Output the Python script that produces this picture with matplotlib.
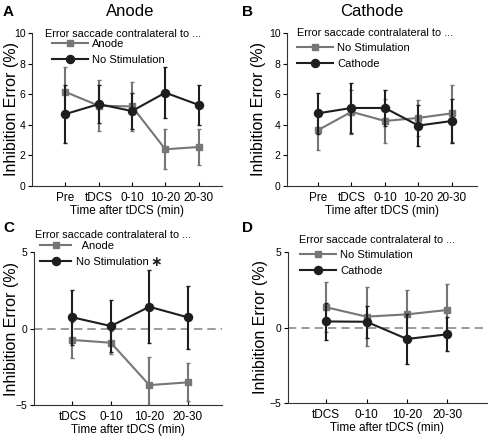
import matplotlib
matplotlib.use("Agg")
import matplotlib.pyplot as plt
from matplotlib.lines import Line2D
import numpy as np

plt.rcParams['font.family'] = ['Liberation Sans', 'DejaVu Sans']

# ---------------- data ----------------
labels_top = ["Pre", "tDCS", "0-10", "10-20", "20-30"]
labels_bot = ["tDCS", "0-10", "10-20", "20-30"]

# Panel A (Anode)
a_anode = [6.15, 5.25, 5.2, 2.4, 2.55]
a_anode_err = [1.65, 1.65, 1.6, 1.3, 1.15]
a_nostim = [4.7, 5.35, 4.9, 6.1, 5.3]
a_nostim_err = [1.9, 1.25, 1.15, 1.65, 1.3]

# Panel B (Cathode)
b_nostim = [3.65, 4.85, 4.25, 4.45, 4.75]
b_nostim_err = [1.3, 1.45, 1.45, 1.15, 1.85]
b_cathode = [4.75, 5.1, 5.1, 3.95, 4.25]
b_cathode_err = [1.35, 1.65, 1.15, 1.35, 1.45]

# Panel C (Anode, baseline-corrected)
c_anode = [-0.75, -0.93, -3.7, -3.52]
c_anode_err = [1.15, 0.75, 1.85, 1.25]
c_nostim = [0.73, 0.16, 1.42, 0.73]
c_nostim_err = [1.8, 1.7, 2.4, 2.05]

# Panel D (Cathode, baseline-corrected)
d_nostim = [1.34, 0.72, 0.87, 1.16]
d_nostim_err = [1.65, 1.95, 1.6, 1.75]
d_cathode = [0.4, 0.38, -0.76, -0.45]
d_cathode_err = [1.25, 1.05, 1.68, 1.12]

legend_title = "Error saccade contralateral to ..."

GRAY = "#767676"
BLACK = "#1e1e1e"
SQ_MS = 5
CI_MS = 5.8

W, H = 489, 436
fig = plt.figure(figsize=(W / 100, H / 100), dpi=100)


def fx(px):
    return px / W


def fy(py):
    return 1 - py / H


def make_ax(left, right, top, bottom):
    return fig.add_axes([left / W, 1 - bottom / H, (right - left) / W, (bottom - top) / H])


def style(ax, left, right, label_right):
    for s in ["top", "right"]:
        ax.spines[s].set_visible(False)
    for s in ["left", "bottom"]:
        ax.spines[s].set_linewidth(0.8)
        ax.spines[s].set_color("#333333")
    ax.tick_params(axis="x", direction="in", length=3, labelsize=8.5, pad=4, width=0.8)
    ax.tick_params(axis="y", direction="out", length=3, labelsize=7.5, pad=1.5, width=0.8)
    ax.set_ylabel("Inhibition Error (%)", fontsize=11.5)
    ax.yaxis.set_label_coords((label_right - left) / (right - left), 0.5)
    ax.set_xlabel("Time after tDCS (min)", fontsize=8.5, labelpad=1)


def series(ax, x, y, e, color, marker, ms, z):
    ax.errorbar(x, y, yerr=e, color=color, marker=marker, ms=ms, lw=1.5,
                elinewidth=1.5, capsize=1.5, capthick=1, zorder=z,
                markeredgecolor=color, markerfacecolor=color)


def handle(color, marker, ms):
    return Line2D([], [], color=color, marker=marker, ms=ms, lw=1.5,
                  markeredgecolor=color, markerfacecolor=color)


def legend(ax, entries, title_x, title_y, hx, hy, hl=2.8):
    fig.text(fx(title_x), fy(title_y), legend_title, fontsize=7.8,
             ha="left", va="center")
    hs = [handle(c, m, s) for (c, m, s, _) in entries]
    ls = [lab for (_, _, _, lab) in entries]
    ax.legend(hs, ls, loc="upper left", bbox_to_anchor=(fx(hx), fy(hy)),
              bbox_transform=fig.transFigure, frameon=False,
              fontsize=8, handlelength=hl, handletextpad=0.4,
              borderaxespad=0, borderpad=0, labelspacing=0.5)


# ----- Panel A -----
L, R = 32, 222
axA = make_ax(L, R, 33, 186)
xt = np.arange(1, len(labels_top) + 1)
series(axA, xt, a_anode, a_anode_err, GRAY, "s", SQ_MS, 2)
series(axA, xt, a_nostim, a_nostim_err, BLACK, "o", CI_MS, 3)
axA.set_xlim(0, 5.7)
axA.set_ylim(0, 10)
axA.set_xticks(xt)
axA.set_xticklabels(labels_top)
axA.set_yticks([0, 2, 4, 6, 8, 10])
style(axA, L, R, 19)
legend(axA, [(GRAY, "s", SQ_MS, "Anode"), (BLACK, "o", CI_MS, "No Stimulation")],
       45, 34, 52, 39, hl=3.2)

# ----- Panel B -----
L, R = 287, 477
axB = make_ax(L, R, 33, 186)
series(axB, xt, b_nostim, b_nostim_err, GRAY, "s", SQ_MS, 2)
series(axB, xt, b_cathode, b_cathode_err, BLACK, "o", CI_MS, 3)
axB.set_xlim(0.075, 5.75)
axB.set_ylim(0, 10)
axB.set_xticks(xt)
axB.set_xticklabels(labels_top)
axB.set_yticks([0, 2, 4, 6, 8, 10])
style(axB, L, R, 266)
legend(axB, [(GRAY, "s", SQ_MS, "No Stimulation"), (BLACK, "o", CI_MS, "Cathode")],
       297, 33, 297, 43, hl=3.2)

# ----- Panel C -----
L, R = 34, 222
axC = make_ax(L, R, 252, 405)
xb = np.arange(1, len(labels_bot) + 1)
axC.axhline(0, color="#8a8a8a", lw=1.2, ls=(0, (5, 3)), zorder=1)
series(axC, xb, c_anode, c_anode_err, GRAY, "s", SQ_MS, 2)
series(axC, xb, c_nostim, c_nostim_err, BLACK, "o", CI_MS, 3)
axC.set_xlim(0, 4.89)
axC.set_ylim(-5, 5)
axC.set_xticks(xb)
axC.set_xticklabels(labels_bot)
axC.set_yticks([-5, 0, 5])
style(axC, L, R, 19)
legend(axC, [(GRAY, "s", SQ_MS, "  Anode"), (BLACK, "o", CI_MS, "No Stimulation")],
       35, 235, 40, 241, hl=2.8)
fig.text(fx(150), fy(262), "\u2217", fontsize=10, ha="left", va="center",
         color=BLACK, family="DejaVu Sans", fontweight="bold")

# ----- Panel D -----
L, R = 288, 487
axD = make_ax(L, R, 252, 403)
axD.axhline(0, color="#8a8a8a", lw=1.2, ls=(0, (5, 3)), zorder=1)
series(axD, xb, d_nostim, d_nostim_err, GRAY, "s", SQ_MS, 2)
series(axD, xb, d_cathode, d_cathode_err, BLACK, "o", CI_MS, 3)
axD.set_xlim(0.057, 4.98)
axD.set_ylim(-5, 5)
axD.set_xticks(xb)
axD.set_xticklabels(labels_bot)
axD.set_yticks([-5, 0, 5])
style(axD, L, R, 268)
legend(axD, [(GRAY, "s", SQ_MS, "No Stimulation"), (BLACK, "o", CI_MS, "Cathode")],
       299, 240, 300, 250, hl=3.2)

# titles and panel letters
fig.text(fx(130), fy(12), "Anode", fontsize=12, ha="center", va="center")
fig.text(fx(372), fy(12), "Cathode", fontsize=12, ha="center", va="center")
for (px, py, t) in [(3, 12, "A"), (242, 12, "B"), (3, 228, "C"), (242, 228, "D")]:
    fig.text(fx(px), fy(py), t, fontsize=11, fontweight="bold", ha="left", va="center")

fig.savefig("out.png", dpi=100)
